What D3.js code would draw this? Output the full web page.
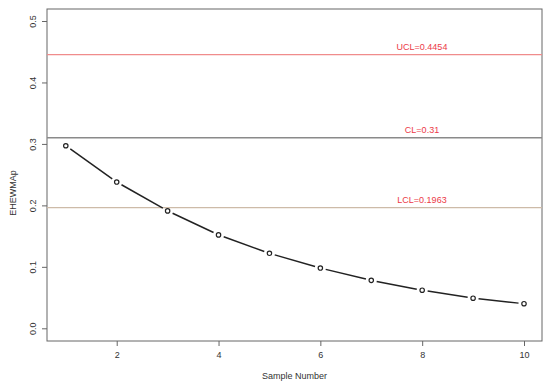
<!DOCTYPE html>
<html><head><meta charset="utf-8">
<script src="https://cdn.jsdelivr.net/npm/d3@7"></script>
<style>body{margin:0;background:#fff}svg{font-family:"Liberation Sans",Arial,sans-serif}</style>
</head><body><svg id="c" width="550" height="386"></svg>
<script>
const samples = [1,2,3,4,5,6,7,8,9,10];
const values = [0.297,0.238,0.191,0.152,0.122,0.098,0.078,0.062,0.049,0.040];
const limits = [
  {name:"UCL", value:0.4454, label:"UCL=0.4454", color:"#f08c8c"},
  {name:"CL", value:0.31, label:"CL=0.31", color:"#8a8a8a"},
  {name:"LCL", value:0.1963, label:"LCL=0.1963", color:"#cdbba8"}
];
const xTicks = [2,4,6,8,10];
const yTicks = [0.0,0.1,0.2,0.3,0.4,0.5];

const svg = d3.select("#c");
const box = {l:47, r:542, t:9, b:341};
const x = d3.scaleLinear().domain([1,10]).range([65.8,524]);
const y = d3.scaleLinear().domain([0,0.5]).range([328.3,21]);
const axisCol = "#666";

svg.append("rect").attr("x",box.l).attr("y",box.t).attr("width",box.r-box.l).attr("height",box.b-box.t)
  .attr("fill","none").attr("stroke",axisCol).attr("stroke-width",1);

limits.forEach(d=>{
  svg.append("line").attr("x1",box.l).attr("x2",box.r).attr("y1",y(d.value)).attr("y2",y(d.value))
    .attr("stroke",d.color).attr("stroke-width",1.3);
  svg.append("text").attr("x",422).attr("y",y(d.value)-5).attr("text-anchor","middle")
    .attr("font-size",9).attr("fill","#ec3a48").text(d.label);
});

const xa = svg.append("g").attr("transform",`translate(0,${box.b})`)
  .call(d3.axisBottom(x).tickValues(xTicks).tickSize(5).tickPadding(6).tickFormat(d3.format("d")));
xa.select(".domain").remove();
xa.selectAll("line").attr("stroke",axisCol);
xa.selectAll("text").attr("font-size",9).attr("fill","#333").attr("font-family","Liberation Sans, Arial, sans-serif");

const ya = svg.append("g").attr("transform",`translate(${box.l},0)`)
  .call(d3.axisLeft(y).tickValues(yTicks).tickSize(5).tickFormat(d3.format(".1f")));
ya.select(".domain").remove();
ya.selectAll("line").attr("stroke",axisCol);
ya.selectAll("text").attr("font-size",9).attr("fill","#333").attr("font-family","Liberation Sans, Arial, sans-serif")
  .attr("text-anchor","middle").attr("x",0).attr("dy",0)
  .attr("transform","translate(-14,0) rotate(-90)").attr("y",3);

svg.append("text").attr("x",(box.l+box.r)/2).attr("y",379).attr("text-anchor","middle")
  .attr("font-size",9).attr("fill","#333").text("Sample Number");
svg.append("text").attr("transform","translate(16,193) rotate(-90)").attr("text-anchor","middle")
  .attr("font-size",9).attr("fill","#333").text("EHEWMAp");

const pts = samples.map((s,i)=>[x(s),y(values[i])]);
const gap = 5.5;
for(let i=0;i<pts.length-1;i++){
  const [x1,y1]=pts[i],[x2,y2]=pts[i+1];
  const dx=x2-x1, dy=y2-y1, L=Math.hypot(dx,dy);
  const ux=dx/L, uy=dy/L;
  svg.append("line").attr("x1",x1+ux*gap).attr("y1",y1+uy*gap).attr("x2",x2-ux*gap).attr("y2",y2-uy*gap)
    .attr("stroke","#222").attr("stroke-width",1.5);
}
svg.selectAll("circle.p").data(pts).enter().append("circle")
  .attr("cx",d=>d[0]).attr("cy",d=>d[1]).attr("r",2.2)
  .attr("fill","none").attr("stroke","#222").attr("stroke-width",1.2);
</script></body></html>
